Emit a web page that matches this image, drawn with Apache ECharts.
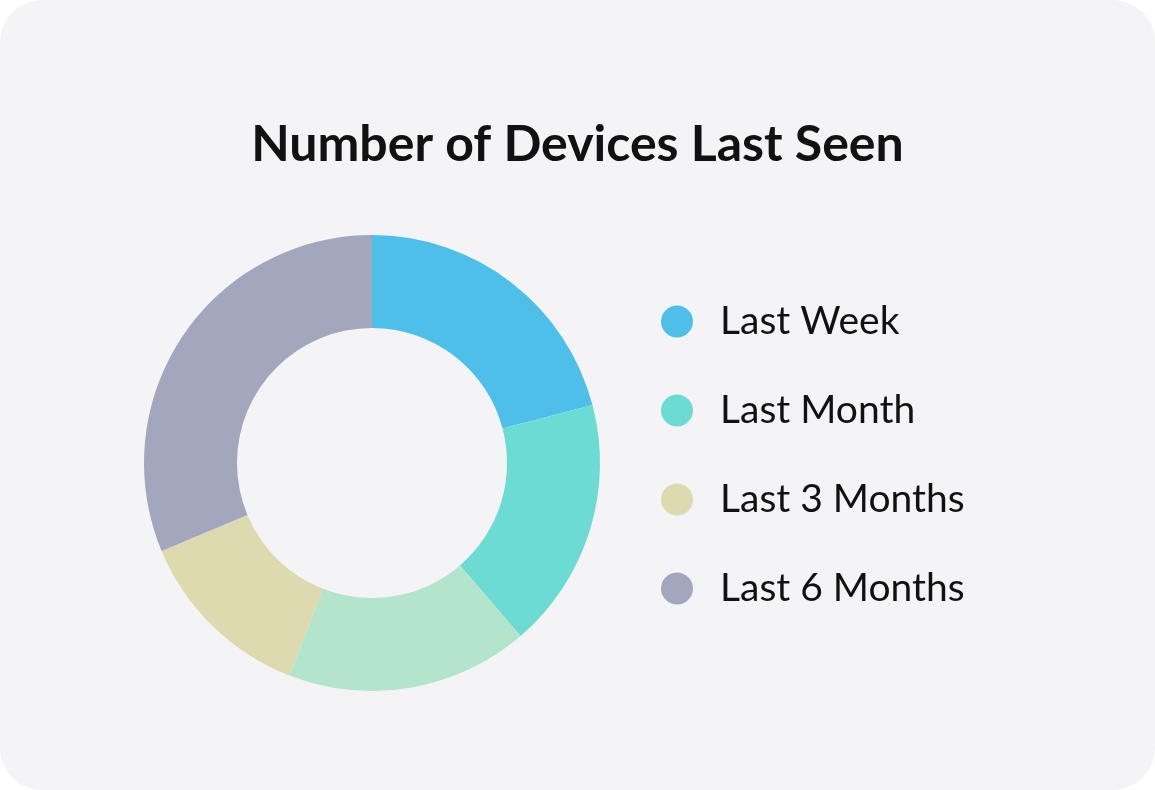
<!DOCTYPE html>
<html><head><meta charset="utf-8">
<script src="https://cdn.jsdelivr.net/npm/echarts@6/dist/echarts.min.js"></script>
<style>
html,body{margin:0;padding:0;background:#fff;}
#panel{position:absolute;left:0;top:0;width:1155px;height:790px;background:#f4f4f7;border-radius:42px;}
#c{width:1155px;height:790px;}
</style></head>
<body><div id="panel"><div id="c"></div></div>
<script>
const categories = ['Last Week','Last Month','Last Year','Last 3 Months','Last 6 Months'];
const legendItems = ['Last Week','Last Month','Last 3 Months','Last 6 Months'];
const values = [20.9, 17.8, 17.2, 12.8, 31.3];
const colors = ['#4dbfe8','#6cdbd4','#b3e4cc','#dedab0','#a2a7bd'];
const chart = echarts.init(document.getElementById('c'));
chart.setOption({
  animation:false,
  title:{text:'Number of Devices Last Seen',left:'center',top:115,
    textStyle:{fontFamily:'Lato',fontSize:50,fontWeight:'bold',color:'#111'}},
  legend:{orient:'vertical',left:656,top:297,icon:'circle',itemWidth:32,itemHeight:32,itemGap:50,
    data:legendItems,
    textStyle:{fontFamily:'Lato',fontSize:39,color:'#111',padding:[0,0,0,22]}},
  series:[{type:'pie',center:[372,463],radius:[135,228],startAngle:90,clockwise:true,
    label:{show:false},labelLine:{show:false},
    data:categories.map((n,i)=>({name:n,value:values[i],itemStyle:{color:colors[i]}}))}]
});
</script></body></html>
